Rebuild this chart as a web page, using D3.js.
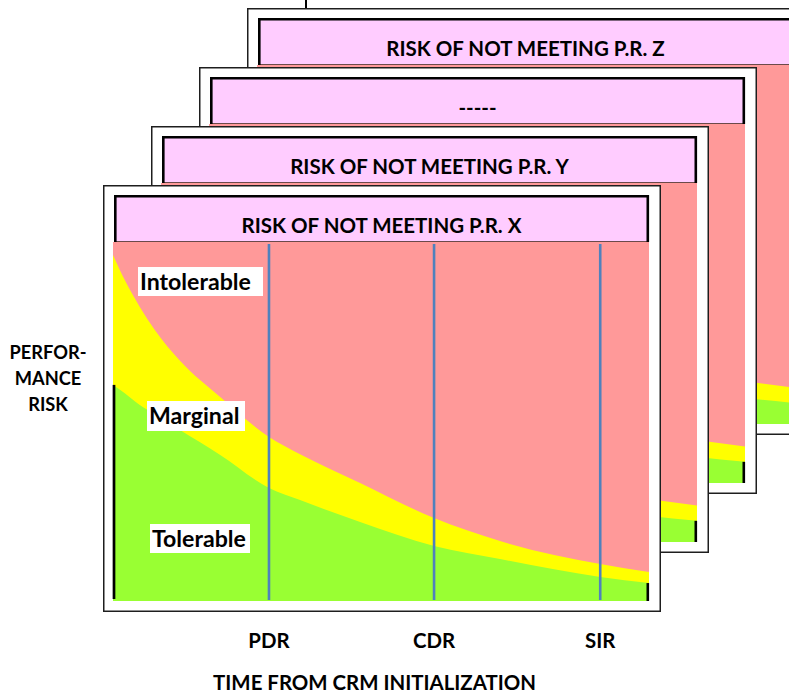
<!DOCTYPE html>
<html><head><meta charset="utf-8">
<script src="https://cdn.jsdelivr.net/npm/d3@7"></script>
<style>
body{margin:0;background:#fff}
svg{display:block}
text{font-family:Lato,'Noto Sans',sans-serif;font-weight:700;fill:#000}
</style>
</head><body><svg id="c" width="789" height="693"></svg>
<script>
// ---------- data ----------
const panelTitles = ["RISK OF NOT MEETING P.R. X", "RISK OF NOT MEETING P.R. Y", "-----", "RISK OF NOT MEETING P.R. Z"];
const milestones = ["PDR", "CDR", "SIR"];
const milestoneTimes = [29.1, 59.9, 90.9];
const zoneLabels = ["Intolerable", "Marginal", "Tolerable"];
const timePoints = [0, 2.2, 5, 7.8, 12.5, 20, 29.1, 34.9, 46.1, 59.9, 72.2, 90.9, 100];
// risk level (0 = bottom, 100 = top) of the Intolerable/Marginal boundary
const intolerableFront = [96.4, 89.4, 81.9, 75.5, 66.9, 56.8, 45.7, 40.9, 32.9, 23.1, 16.7, 10.3, 8.1];
// risk level of the Marginal/Tolerable boundary
const tolerableFront = [60.2, 57.9, 54.6, 52.1, 47.6, 40.7, 31.5, 28.1, 22.0, 15.3, 11.7, 6.7, 5.0];
// rear panels (only the right strip is visible)
const intolerableBack = [96.4, 89.4, 81.9, 75.5, 66.9, 56.8, 45.7, 40.9, 32.9, 23.1, 16.7, 12.0, 10.2];
const tolerableBack = [60.2, 57.9, 54.6, 52.1, 47.6, 40.7, 31.5, 28.1, 22.0, 15.3, 11.7, 7.3, 5.9];
const yAxisLabel = ["PERFOR-", "MANCE", "RISK"];
const xAxisLabel = "TIME FROM CRM INITIALIZATION";

// ---------- layout ----------
const svg = d3.select("#c");
svg.append("rect").attr("width", 789).attr("height", 693).attr("fill", "#fff");
const origin = {x: 103, y: 185};
const step = {x: 48, y: -59};
const box = {w: 558, h: 427};
const tbar = {x: 11, y: 10, w: 535, h: 47};
const plot = {x: 10, y: 57, w: 536, h: 359};
const col = {pink: "#FF9999", yellow: "#FFFF00", green: "#99FF33", title: "#FFCCFF", blue: "#4F81BD"};

const xs = d3.scaleLinear().domain([0, 100]).range([0, plot.w]);
const ys = d3.scaleLinear().domain([0, 100]).range([plot.h, 0]);

function measure(text, size) {
  const t = svg.append("text").style("font-size", size + "px").text(text);
  const w = t.node().getComputedTextLength();
  t.remove();
  return w;
}
function fit(text, target) { return 20 * target / measure(text, 20); }

const titleSize = fit(panelTitles[0], 280);
const zoneSize = fit(zoneLabels[0], 111);
const axisSize = fit(xAxisLabel, 323);
const ySize = fit(yAxisLabel[0], 77);

for (let k = panelTitles.length - 1; k >= 0; k--) {
  const g = svg.append("g")
    .attr("transform", `translate(${origin.x + step.x * k},${origin.y + step.y * k})`);
  g.append("rect").attr("x", 0.75).attr("y", 0.75).attr("width", box.w - 1.5).attr("height", box.h - 1.5)
    .attr("fill", "#fff").attr("stroke", "#1e1e1e").attr("stroke-width", 1.5);

  const p = g.append("g").attr("transform", `translate(${plot.x},${plot.y})`);
  p.append("rect").attr("width", plot.w).attr("height", plot.h).attr("fill", col.pink);

  const up = k === 0 ? intolerableFront : intolerableBack;
  const lo = k === 0 ? tolerableFront : tolerableBack;
  const rows = timePoints.map((t, i) => ({t, u: up[i], l: lo[i]}));

  p.append("path").datum(rows).attr("fill", col.yellow)
    .attr("d", d3.area().x(d => xs(d.t)).y0(ys(0)).y1(d => ys(d.u)).curve(d3.curveMonotoneX));
  p.append("path").datum(rows).attr("fill", col.green)
    .attr("d", d3.area().x(d => xs(d.t)).y0(ys(0)).y1(d => ys(d.l)).curve(d3.curveMonotoneX));

  // black edges of the tolerable zone
  p.append("line").attr("x1", 1).attr("x2", 1).attr("y1", ys(lo[0])).attr("y2", ys(0) - 2)
    .attr("stroke", "#000").attr("stroke-width", 2.7);
  p.append("line").attr("x1", plot.w - 1.2).attr("x2", plot.w - 1.2)
    .attr("y1", ys(lo[lo.length - 1])).attr("y2", ys(0)).attr("stroke", "#000").attr("stroke-width", 2.6);

  // milestone lines
  p.selectAll("line.ms").data(milestoneTimes).join("line").attr("class", "ms")
    .attr("x1", d => xs(d)).attr("x2", d => xs(d)).attr("y1", 2).attr("y2", ys(0) - 1)
    .attr("stroke", col.blue).attr("stroke-width", 2.6);

  // title bar
  g.append("rect").attr("x", tbar.x).attr("y", tbar.y).attr("width", tbar.w).attr("height", tbar.h)
    .attr("fill", col.title);
  g.append("line").attr("x1", tbar.x).attr("x2", tbar.x + tbar.w).attr("y1", plot.y - 0.5).attr("y2", plot.y - 0.5)
    .attr("stroke", "#6b4a4a").attr("stroke-width", 1);
  g.append("path")
    .attr("d", `M${tbar.x + 1.3},${plot.y} V${tbar.y + 1.3} H${tbar.x + tbar.w - 1.2} V${plot.y}`)
    .attr("fill", "none").attr("stroke", "#000").attr("stroke-width", 2.6);
  g.append("text").attr("x", tbar.x + tbar.w / 2).attr("y", tbar.y + 38)
    .attr("text-anchor", "middle").style("font-size", titleSize + "px").text(panelTitles[k]);

  if (k === 0) {
    const zl = [{bx: 35, by: 82, bw: 125, bh: 29, ty: 105},
                {bx: 44, by: 216, bw: 98, bh: 30, ty: 239},
                {bx: 47, by: 339, bw: 100, bh: 29, ty: 362}];
    zoneLabels.forEach((lab, i) => {
      const L = zl[i];
      g.append("rect").attr("x", L.bx).attr("y", L.by).attr("width", L.bw).attr("height", L.bh).attr("fill", "#fff");
      g.append("text").attr("x", L.bx + 2).attr("y", L.ty).style("font-size", zoneSize + "px").text(lab);
    });
  }
}

// small mark above the rear panel
svg.append("line").attr("x1", origin.x + step.x * 3 + 59).attr("x2", origin.x + step.x * 3 + 59)
  .attr("y1", 0).attr("y2", origin.y + step.y * 3).attr("stroke", "#000").attr("stroke-width", 2);

// x axis labels
const px0 = origin.x + plot.x;
svg.selectAll("text.ms").data(milestones).join("text").attr("class", "ms")
  .attr("x", (d, i) => px0 + xs(milestoneTimes[i])).attr("y", 648)
  .attr("text-anchor", "middle").style("font-size", axisSize + "px").text(d => d);
svg.append("text").attr("x", 374.5).attr("y", 690).attr("text-anchor", "middle")
  .style("font-size", axisSize + "px").text(xAxisLabel);

// y axis label
svg.selectAll("text.yl").data(yAxisLabel).join("text").attr("class", "yl")
  .attr("x", 48).attr("y", (d, i) => 359 + i * 26).attr("text-anchor", "middle")
  .style("font-size", ySize + "px").text(d => d);
</script>
</body></html>
